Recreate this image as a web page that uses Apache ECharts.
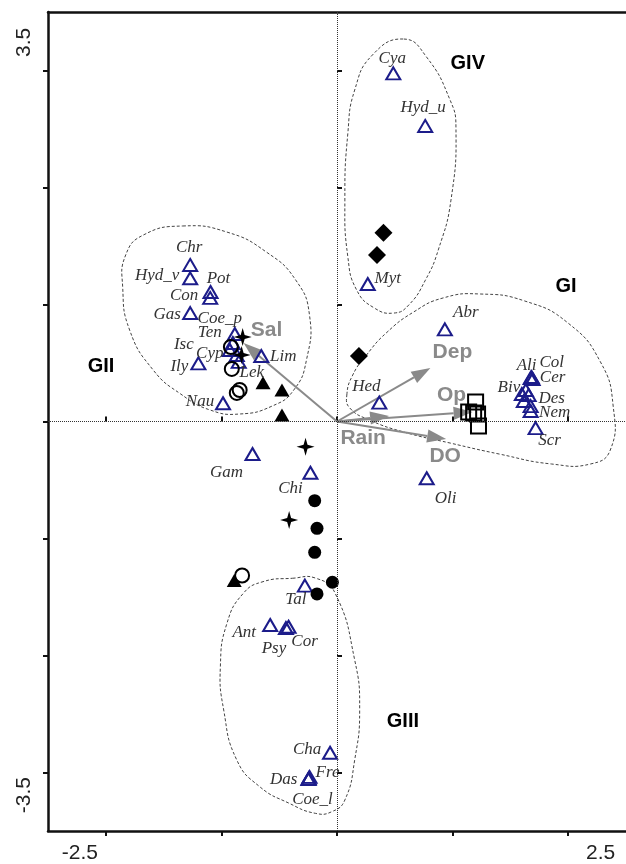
<!DOCTYPE html>
<html><head><meta charset="utf-8">
<script src="https://cdn.jsdelivr.net/npm/echarts@6/dist/echarts.min.js"></script>
<style>html,body{margin:0;padding:0;background:#fff}#c{width:626px;height:864px}</style>
</head><body><div id="c"></div>
<script>
// ---- axes ----
const xTickValues = [-2, -1, 0, 1, 2];
const yTickValues = [-3, -2, -1, 0, 1, 2, 3];
const xTickLabels = [-2.5, 2.5];
const yTickLabels = [-3.5, 3.5];

// ---- species (open triangles) ----
const speciesNames = ['Cya','Hyd_u','Myt','Chr','Hyd_v','Pot','Con','Gas','Coe_p','Ten','Isc','Cyp','Lek','Ily','Lim','Nau','Gam','Chi','Abr','Hed','Ali','Col','Cer','Biv','','','','Des','Nem','Scr','Oli','Tal','Ant','Cor','Psy','Cha','Das','Fre','Coe_l'];
const speciesX = [0.487,0.763,0.266,-1.270,-1.270,-1.094,-1.097,-1.270,-0.884,-0.901,-0.927,-0.867,-0.850,-1.199,-0.655,-0.986,-0.731,-0.230,0.933,0.366,1.675,1.684,1.692,1.599,1.633,1.658,1.616,1.675,1.675,1.718,0.776,-0.278,-0.578,-0.419,-0.442,-0.060,-0.244,-0.238,-0.247];
const speciesY = [2.976,2.526,1.175,1.338,1.224,1.107,1.056,0.927,0.748,0.671,0.611,0.568,0.509,0.497,0.560,0.156,-0.278,-0.438,0.788,0.161,0.372,0.380,0.363,0.235,0.269,0.226,0.175,0.132,0.090,-0.056,-0.485,-1.403,-1.739,-1.754,-1.765,-2.831,-3.050,-3.038,-3.056];
const speciesLabelOffset = [[-1,-15],[-2,-18],[20,-5],[-1,-17],[-33,-3],[8,-13],[-26,-2],[-23,1],[-15,-15],[-23,-10],[-46,-5],[-27,-2],[13,11],[-19,3],[22,1],[-23,-2],[-26,19],[-20,16],[21,-17],[-13,-16],[-4,-12],[20,-15],[20,-1],[-13,-6],[0,0],[0,0],[0,0],[21,-8],[24,2],[14,12],[19,20],[-9,14],[-26,8],[16,15],[-12,21],[-23,-3],[-25,1],[18,-4],[4,20]];

// ---- samples ----
const diamondX = [0.402, 0.346, 0.190];
const diamondY = [1.614, 1.423, 0.560];
const squareX = [1.199, 1.139, 1.182, 1.216, 1.224];
const squareY = [0.167, 0.081, 0.073, 0.064, -0.038];
const starX = [-0.816, -0.825, -0.272, -0.414];
const starY = [0.722, 0.568, -0.215, -0.842];
const filledTriX = [-0.640, -0.476, -0.476, -0.889];
const filledTriY = [0.332, 0.269, 0.056, -1.359];
const openCircleX = [-0.918, -0.910, -0.867, -0.842, -0.821];
const openCircleY = [0.637, 0.449, 0.244, 0.269, -1.316];
const filledCircleX = [-0.193, -0.173, -0.193, -0.040, -0.173];
const filledCircleY = [-0.677, -0.913, -1.118, -1.374, -1.474];

// ---- environmental vectors ----
const envNames = ['Sal', 'Dep', 'Op', 'DO', 'Rain'];
const envX = [-0.808, 0.808, 1.173, 0.944, 0.451];
const envY = [0.671, 0.457, 0.081, -0.150, 0.047];
const envLabelOffset = [[23,-13],[22,-16],[-21,-17],[-1,17],[-26,22]];

// ---- group hulls ----
const hullGI = [[0.085,0.226],[0.136,0.397],[0.255,0.568],[0.425,0.756],[0.663,0.936],[0.918,1.056],[1.233,1.090],[1.624,1.030],[1.998,0.842],[2.279,0.509],[2.389,0.132],[2.364,-0.244],[2.194,-0.363],[1.854,-0.363],[1.403,-0.278],[0.978,-0.184],[0.578,-0.090],[0.281,0.013],[0.111,0.115]];
const hullGII = [[-1.335,1.671],[-0.952,1.619],[-0.612,1.449],[-0.357,1.209],[-0.238,0.910],[-0.264,0.526],[-0.374,0.269],[-0.561,0.132],[-0.842,0.064],[-1.097,0.098],[-1.352,0.235],[-1.590,0.440],[-1.794,0.782],[-1.854,1.150],[-1.828,1.423],[-1.675,1.594]];
const hullGIII = [[-0.385,-1.340],[-0.187,-1.338],[-0.017,-1.466],[0.153,-2.038],[0.196,-2.466],[0.153,-2.893],[0.068,-3.235],[-0.045,-3.335],[-0.187,-3.349],[-0.414,-3.263],[-0.669,-3.121],[-0.867,-2.893],[-0.980,-2.466],[-1.009,-2.096],[-0.952,-1.725],[-0.810,-1.468],[-0.640,-1.369]];
const hullGIV = [[0.578,3.269],[0.774,3.116],[0.978,2.748],[1.029,2.517],[0.986,1.893],[0.876,1.466],[0.765,1.209],[0.621,0.996],[0.493,0.927],[0.323,0.970],[0.170,1.124],[0.094,1.406],[0.068,1.893],[0.094,2.466],[0.153,2.833],[0.306,3.132]];
const groupNames = ['GI', 'GII', 'GIII', 'GIV'];
const groupLabelX = [1.981, -2.041, 0.570, 1.131];
const groupLabelY = [1.150, 0.466, -2.560, 3.064];

const pairs = (xs, ys) => xs.map((x, i) => [x, ys[i]]);

const chart = echarts.init(document.getElementById('c'), null, {renderer: 'canvas'});
const AX = '#111';
const axisFont = {fontSize: 21, color: '#222', fontFamily: 'Liberation Sans, Arial, sans-serif'};

function hullSeries(points) {
  return {
    type: 'custom', silent: true, z: 1, clip: false,
    data: [[0, 0]],
    renderItem: (params, api) => ({
      type: 'polygon',
      shape: {points: points.map(p => api.coord(p)), smooth: 0.5},
      style: {fill: 'none', stroke: '#444', lineWidth: 1, lineDash: [3, 2]}
    })
  };
}

function scatterSeries(xs, ys, symbol, size, itemStyle, z) {
  return {type: 'scatter', silent: true, z: z || 4, symbol, symbolSize: size,
    itemStyle: Object.assign({opacity: 1}, itemStyle), data: pairs(xs, ys)};
}

const emptyFill = 'rgba(255,255,255,0)';
const starPath = 'path://M50,0 L61,39 L100,50 L61,61 L50,100 L39,61 L0,50 L39,39 Z';

const option = {
  animation: false,
  backgroundColor: '#fff',
  grid: {left: 48, top: 12, width: 588, height: 819, containLabel: false},
  xAxis: [
    {type: 'value', min: -2.5, max: 2.5, position: 'bottom',
     axisLine: {onZero: false, lineStyle: {color: AX, width: 2.5}},
     axisTick: {customValues: xTickValues, length: 5, lineStyle: {color: AX, width: 2}},
     axisLabel: Object.assign({customValues: xTickLabels, margin: 12,
       formatter: v => (v < 0 ? '{l|' : '{r|') + v + '}',
       rich: {l: {width: 100, align: 'right'}, r: {width: 80, align: 'left'}}}, axisFont),
     splitLine: {show: false}},
    {type: 'value', min: -2.5, max: 2.5, position: 'bottom',
     axisLine: {show: false},
     axisTick: {customValues: xTickValues, inside: true, length: 5, lineStyle: {color: AX, width: 2}},
     axisLabel: {show: false}, splitLine: {show: false}},
    {type: 'value', min: -2.5, max: 2.5, position: 'top',
     axisLine: {onZero: false, lineStyle: {color: AX, width: 2.5}},
     axisTick: {show: false}, axisLabel: {show: false}, splitLine: {show: false}}
  ],
  yAxis: [
    {type: 'value', min: -3.5, max: 3.5, position: 'left',
     axisLine: {onZero: false, lineStyle: {color: AX, width: 2.5}},
     axisTick: {customValues: yTickValues, length: 5, lineStyle: {color: AX, width: 2}},
     axisLabel: Object.assign({customValues: yTickLabels, margin: 13, rotate: 90,
       formatter: v => (v > 0 ? '{t|' : '{b|') + v + '}',
       rich: {t: {width: 90, align: 'left'}, b: {width: 108, align: 'right'}}}, axisFont),
     splitLine: {show: false}},
    {type: 'value', min: -3.5, max: 3.5, position: 'left',
     axisLine: {show: false},
     axisTick: {customValues: yTickValues, inside: true, length: 5, lineStyle: {color: AX, width: 2}},
     axisLabel: {show: false}, splitLine: {show: false}}
  ],
  series: [
    hullSeries(hullGI), hullSeries(hullGII), hullSeries(hullGIII), hullSeries(hullGIV),
    // environmental arrows
    {
      type: 'custom', silent: true, z: 2, clip: false,
      data: envNames.map((n, i) => [envX[i], envY[i], i]),
      renderItem: (params, api) => {
        const i = api.value(2);
        const p0 = api.coord([0, 0]);
        const p1 = api.coord([api.value(0), api.value(1)]);
        const dx = p1[0] - p0[0], dy = p1[1] - p0[1];
        const L = Math.sqrt(dx * dx + dy * dy);
        const ux = dx / L, uy = dy / L;
        const hl = 19, hw = 6.5;
        const bx = p1[0] - ux * hl, by = p1[1] - uy * hl;
        const off = envLabelOffset[i];
        return {type: 'group', children: [
          {type: 'line', shape: {x1: p0[0], y1: p0[1], x2: bx, y2: by},
           style: {stroke: '#8a8a8a', lineWidth: 2}},
          {type: 'polygon', shape: {points: [[p1[0], p1[1]], [bx - uy * hw, by + ux * hw], [bx + uy * hw, by - ux * hw]]},
           style: {fill: '#8a8a8a'}},
          {type: 'text', x: p1[0] + off[0], y: p1[1] + off[1],
           style: {text: envNames[i], fill: '#8a8a8a', font: 'bold 21px "Liberation Sans", Arial, sans-serif',
                   align: 'center', verticalAlign: 'middle'}}
        ]};
      }
    },
    // species
    {
      type: 'scatter', silent: true, z: 3, symbol: 'triangle', symbolSize: [14, 12],
      itemStyle: {color: emptyFill, borderColor: '#1c1c8a', borderWidth: 2, opacity: 1},
      label: {show: true, position: 'inside', formatter: '{b}', color: '#333',
              fontFamily: '"Liberation Serif", "Times New Roman", serif', fontStyle: 'italic', fontSize: 17},
      data: speciesNames.map((n, i) => ({name: n, value: [speciesX[i], speciesY[i]],
        label: {offset: speciesLabelOffset[i]}})),
      markLine: {silent: true, symbol: ['none', 'none'], animation: false, label: {show: false},
        lineStyle: {type: 'dotted', color: '#333', width: 1},
        data: [{xAxis: 0}, {yAxis: 0}]}
    },
    scatterSeries(diamondX, diamondY, 'diamond', 18, {color: '#000'}),
    scatterSeries(squareX, squareY, 'rect', 15, {color: emptyFill, borderColor: '#000', borderWidth: 2}),
    scatterSeries(starX, starY, starPath, 18, {color: '#000'}),
    scatterSeries(filledTriX, filledTriY, 'triangle', [15, 13], {color: '#000'}),
    scatterSeries(openCircleX, openCircleY, 'circle', 14, {color: emptyFill, borderColor: '#000', borderWidth: 2}),
    scatterSeries(filledCircleX, filledCircleY, 'circle', 13, {color: '#000'}),
    // group labels
    {
      type: 'scatter', silent: true, z: 5, symbolSize: 1, itemStyle: {color: emptyFill, opacity: 1},
      label: {show: true, position: 'inside', formatter: '{b}', color: '#000',
              fontFamily: '"Liberation Sans", Arial, sans-serif', fontWeight: 'bold', fontSize: 20},
      data: groupNames.map((n, i) => ({name: n, value: [groupLabelX[i], groupLabelY[i]]}))
    }
  ]
};
chart.setOption(option);
</script>
</body></html>
